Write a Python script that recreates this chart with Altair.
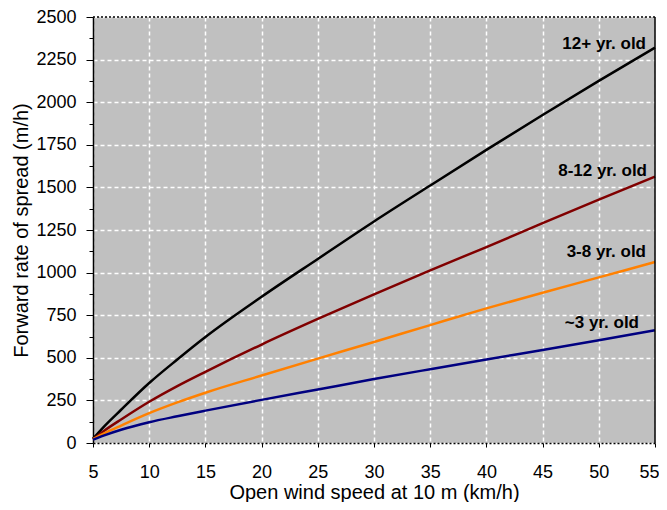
import altair as alt
import pandas as pd

# Wind speed (km/h, 10 m open) at which values were read
wind = [5, 6, 7.5, 10, 12.5, 15, 20, 25, 30, 35, 40, 45, 50, 55]

# Forward rate of spread (m/h)
ros_12plus = [25, 98, 195, 352, 490, 622, 858, 1080, 1300, 1511, 1720, 1925, 2125, 2320]
ros_8_12 = [22, 72, 138, 242, 334, 418, 578, 728, 872, 1013, 1150, 1290, 1428, 1563]
ros_3_8 = [22, 56, 102, 175, 238, 295, 396, 495, 593, 692, 790, 882, 972, 1062]
ros_3 = [20, 45, 78, 122, 157, 190, 253, 314, 375, 433, 490, 546, 603, 662]

ages = ["12+ yr. old", "8-12 yr. old", "3-8 yr. old", "~3 yr. old"]
series = [ros_12plus, ros_8_12, ros_3_8, ros_3]
colors = ["#000000", "#800000", "#FF8000", "#000080"]

x_ticks = [5, 10, 15, 20, 25, 30, 35, 40, 45, 50, 55]
y_major = [0, 250, 500, 750, 1000, 1250, 1500, 1750, 2000, 2250, 2500]
y_minor = [125, 375, 625, 875, 1125, 1375, 1625, 1875, 2125, 2375]

rows = []
for age, vals in zip(ages, series):
    for w, r in zip(wind, vals):
        rows.append({"wind": w, "ros": r, "age": age})
df = pd.DataFrame(rows)

frame = pd.DataFrame({"wind": [x_ticks[-1]], "ros": [y_major[-1]]})

FONT = "Liberation Sans"
xscale = alt.Scale(domain=[x_ticks[0], x_ticks[-1]], nice=False, zero=False)
yscale = alt.Scale(domain=[y_major[0], y_major[-1]], nice=False)

x_axis = alt.Axis(
    title="Open wind speed at 10 m (km/h)", values=x_ticks, format="d",
    tickSize=4, tickColor="black", tickWidth=1,
    labelPadding=16, labelFontSize=18, labelFont=FONT, labelColor="black",
    labelFlush=False, labelOverlap=False,
    labelOffset={"condition": {"test": "datum.value === 55", "value": -6}, "value": 0},
    titleY=55, titleBaseline="alphabetic",
    titleFontSize=20, titleFont=FONT, titleColor="black",
    titleFontWeight="normal",
    domainColor="black", domainWidth=1.5, domainDash=[2, 2],
    grid=True, gridColor="white", gridDash=[4, 3], gridWidth=1.5, gridOpacity=1,
)
y_axis = alt.Axis(
    title="Forward rate of spread (m/h)", values=y_major, format="d",
    tickSize=7, tickColor="black", tickWidth=1,
    labelPadding=10, labelFontSize=18, labelFont=FONT, labelColor="black",
    labelFlush=False, labelOverlap=False,
    titlePadding=4, titleFontSize=20, titleFont=FONT, titleColor="black",
    titleFontWeight="normal",
    domainColor="black", domainWidth=1.5,
    grid=True, gridColor="white", gridDash=[4, 3], gridWidth=1.5, gridOpacity=1,
)
y_minor_axis = alt.Axis(
    title=None, values=y_minor, orient="left",
    tickSize=4, tickColor="black", tickWidth=1,
    labels=False, domain=False, grid=False,
)

lines = alt.Chart(df).mark_line(strokeWidth=2.5, interpolate="monotone").encode(
    x=alt.X("wind:Q", scale=xscale, axis=x_axis),
    y=alt.Y("ros:Q", scale=yscale, axis=y_axis),
    color=alt.Color("age:N", scale=alt.Scale(domain=ages, range=colors), legend=None),
)

minor = alt.Chart(df).mark_line(opacity=0).encode(
    x=alt.X("wind:Q", scale=xscale),
    y=alt.Y("ros:Q", scale=yscale, axis=y_minor_axis),
    detail="age:N",
)

label_offsets = {
    "12+ yr. old": (-9, -4),
    "8-12 yr. old": (-8, -6),
    "3-8 yr. old": (-9, -10),
    "~3 yr. old": (-16, -7),
}
texts = []
for age in ages:
    dx, dy = label_offsets[age]
    t = alt.Chart(df).transform_filter(
        (alt.datum.age == age) & (alt.datum.wind == x_ticks[-1])
    ).mark_text(
        align="right", baseline="middle", dx=dx, dy=dy,
        font=FONT, fontSize=17, fontWeight="bold", color="black",
    ).encode(
        x=alt.X("wind:Q", scale=xscale),
        y=alt.Y("ros:Q", scale=yscale, axis=None),
        text="age:N",
    )
    texts.append(t)

right_border = alt.Chart(frame).mark_rule(color="black", strokeWidth=1.5).encode(
    x=alt.X("wind:Q", scale=xscale),
)
top_border = alt.Chart(frame).mark_rule(color="black", strokeWidth=1.5, strokeDash=[2, 2]).encode(
    y=alt.Y("ros:Q", scale=yscale, axis=None),
)

chart = alt.layer(lines, minor, *texts, right_border, top_border).resolve_axis(
    y="independent"
).properties(
    width=562, height=426,
    autosize=alt.AutoSizeParams(type="none"),
    padding={"left": 85, "top": 9, "right": 4, "bottom": 59},
    background="white",
).configure_view(fill="#C0C0C0", stroke=None)

chart.save("out.html", embed_options={"renderer": "svg", "actions": False})
